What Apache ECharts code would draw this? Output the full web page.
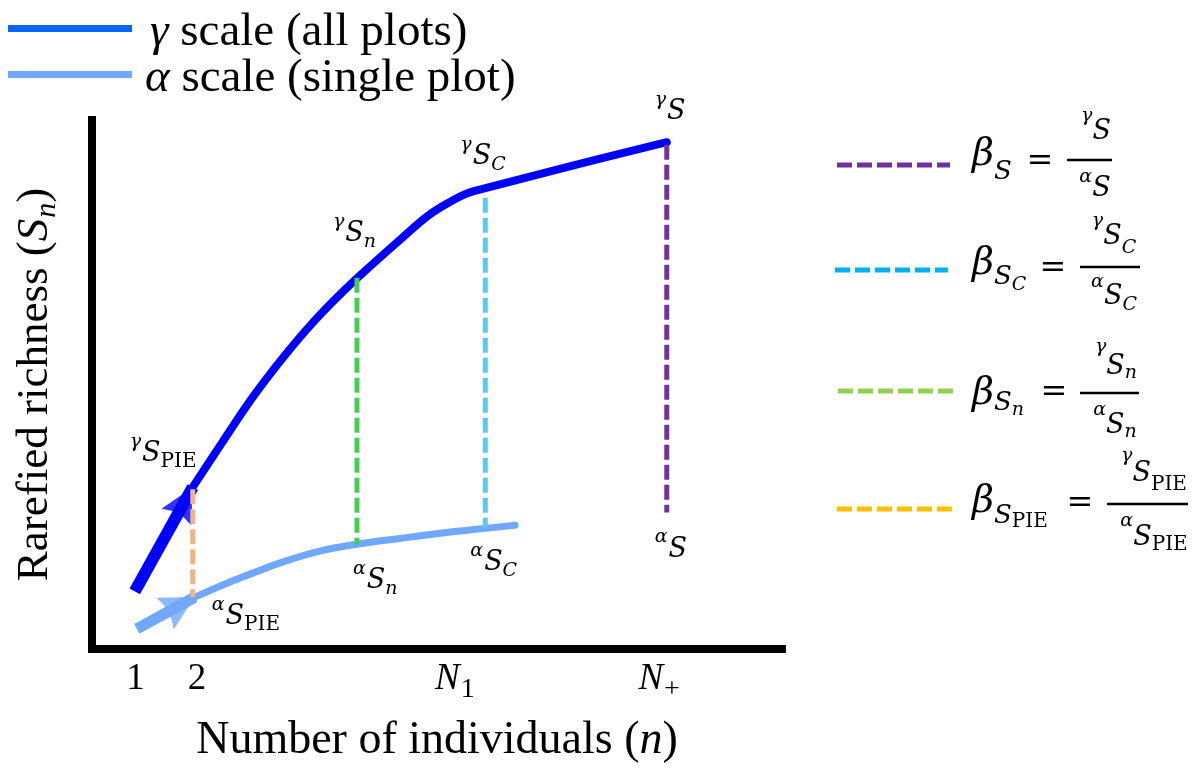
<!DOCTYPE html>
<html><head><meta charset="utf-8">
<script src="https://cdn.jsdelivr.net/npm/echarts@6/dist/echarts.min.js"></script>
<style>html,body{margin:0;padding:0;background:#fff}#main{width:1195px;height:769px}</style>
</head><body><div id="main"></div>
<script>
// ---------------- data ----------------
const gammaShaft = [[6.2, 10.9], [14.6, 30.6]];
const gammaCurve = [[14.6, 30.6], [19.0, 39.3], [23.3, 47.6], [27.7, 55.1], [32.0, 61.7], [36.4, 67.6], [40.7, 72.8], [45.1, 77.9], [48.7, 81.9], [51.6, 84.3], [54.5, 86.2], [57.3, 87.2], [68.8, 91.1], [83.3, 95.8]];
const alphaShaft = [[6.5, 3.8], [14.9, 9.8]];
const alphaCurve = [[14.9, 9.8], [19.3, 12.3], [23.6, 14.5], [28.0, 16.6], [33.0, 18.5], [38.4, 19.8], [44.6, 20.9], [51.9, 22.1], [57.0, 22.8], [61.3, 23.4]];
const dropX = [14.6, 38.4, 57.0, 83.3];
const dropTop = [30.2, 70.2, 85.3, 95.3];
const dropBottom = [9.8, 19.8, 23.0, 25.8];
const dropSub = ['PIE', 'n', 'C', ''];
const tickValues = [6.3, 15.2, 52.6, 82.2];
const tickLabels = ['1', '2', 'N_1', 'N_+'];
const seriesNames = ['γ scale (all plots)', 'α scale (single plot)'];
const xTitle = 'Number of individuals';
const yTitle = 'Rarefied richness';

// ---------------- styles ----------------
const GAMMA = '#0000FF', ALPHA = '#70A8FF';
const dashColors = ['#F4B183', '#45CC55', '#5CC8F0', '#7030A0'];
const legendDashColors = ['#7030A0', '#00B0F0', '#92D050', '#FFC000'];
const SERIF = 'Liberation Serif', MATH = 'DejaVu Serif';
const ARROW = 'path://M10,0 L20,26 L10,22 L0,26 Z';

// annotation label offsets (pixels) relative to the anchor point
const labelOffsets = [[-63, -56.5], [19, -1.5], [-24, -65.5], [-4, 15.5], [-25, -62.5], [-15, 14.5], [-12, -54.5], [-12, 15.5]];

const annRich = {
  sup: {fontFamily: MATH, fontStyle: 'italic', fontSize: 19, color: '#000', verticalAlign: 'top', padding: [0, 1, 0, 0]},
  S: {fontFamily: MATH, fontStyle: 'italic', fontSize: 27, color: '#000', verticalAlign: 'top', padding: [8, 0, 0, 0]},
  sub: {fontFamily: MATH, fontStyle: 'italic', fontSize: 19, color: '#000', verticalAlign: 'top', padding: [20, 0, 0, 0]},
  subUp: {fontFamily: MATH, fontStyle: 'normal', fontSize: 20, color: '#000', verticalAlign: 'top', padding: [19.5, 0, 0, 0]}
};
function annText(scale, sub) {
  let s = '{sup|' + scale + '}{S|S}';
  if (sub === 'PIE') s += '{subUp|PIE}';
  else if (sub) s += '{sub|' + sub + '}';
  return s;
}

// ---------------- series ----------------
const series = [];
series.push({name: seriesNames[1], type: 'line', data: alphaCurve, smooth: 0.4, symbol: 'none',
  lineStyle: {color: ALPHA, width: 7, cap: 'round'}, itemStyle: {color: ALPHA}, z: 2, silent: true});
series.push({name: 'alphaShaft', type: 'line', data: alphaShaft, symbol: 'none',
  lineStyle: {color: ALPHA, width: 11, cap: 'butt'}, z: 2, silent: true});
series.push({name: 'alphaHead', type: 'scatter', data: [alphaShaft[1]], symbol: ARROW, symbolSize: [36, 34],
  symbolRotate: -61, symbolOffset: [-14.9, 8.2], itemStyle: {color: ALPHA}, z: 3, silent: true});
series.push({name: seriesNames[0], type: 'line', data: gammaCurve, smooth: 0.4, symbol: 'none',
  lineStyle: {color: GAMMA, width: 8, cap: 'round'}, itemStyle: {color: GAMMA}, z: 2, silent: true});
series.push({name: 'gammaShaft', type: 'line', data: gammaShaft, symbol: 'none',
  lineStyle: {color: GAMMA, width: 12, cap: 'butt'}, z: 2, silent: true});
series.push({name: 'gammaHead', type: 'scatter', data: [gammaShaft[1]], symbol: ARROW, symbolSize: [34, 34],
  symbolRotate: -29, symbolOffset: [-8.2, 14.9], itemStyle: {color: GAMMA}, z: 3, silent: true});

dropX.forEach((x, i) => {
  series.push({name: 'drop' + i, type: 'line', data: [[x, dropTop[i]], [x, dropBottom[i]]], symbol: 'none',
    lineStyle: {color: dashColors[i], width: 5, type: [15, 5], cap: 'butt'}, z: 5, silent: true});
});

const annData = [];
dropX.forEach((x, i) => {
  annData.push({value: [x, dropTop[i]], label: {position: labelOffsets[i * 2], formatter: annText('γ', dropSub[i])}});
  annData.push({value: [x, dropBottom[i]], label: {position: labelOffsets[i * 2 + 1], formatter: annText('α', dropSub[i])}});
});
series.push({name: 'annotations', type: 'scatter', data: annData, symbolSize: 0.01,
  itemStyle: {color: 'rgba(0,0,0,0)'}, silent: true, z: 6,
  label: {show: true, align: 'left', verticalAlign: 'top', color: '#000', opacity: 1, rich: annRich}});

// ---------------- right-hand legend (formulas) ----------------
function mathText(x, pieces, align) {
  const base = Math.min(...pieces.map(p => p.mid - p.size / 2));
  const rich = {}; let text = '';
  pieces.forEach((p, i) => {
    const k = 'k' + i;
    rich[k] = {fontFamily: MATH, fontSize: p.size, fontStyle: p.up ? 'normal' : 'italic', color: '#000',
      verticalAlign: 'top', padding: [p.mid - p.size / 2 - base, p.pr || 0, 0, p.pl || 0]};
    text += '{' + k + '|' + p.t + '}';
  });
  return {type: 'text', x: x, y: base, silent: true, style: {text: text, rich: rich, align: align || 'left', verticalAlign: 'top'}};
}
const rows = [
  {dashY: 165, dashX: [837, 950], lhs: [['β', 38, 155], ['S', 26, 172]], eq: [1040, 161.5], bar: [1067, 1112, 160],
   num: [1096, [['γ', 19, 116], ['S', 27, 132]]], den: [1095, [['α', 19, 177], ['S', 27, 189]]]},
  {dashY: 270, dashX: [835, 948], lhs: [['β', 38, 264], ['S', 26, 277], ['C', 19, 285]], eq: [1053, 268.5], bar: [1080, 1140, 267],
   num: [1114, [['γ', 19, 221], ['S', 27, 237], ['C', 19, 248]]], den: [1114, [['α', 19, 282], ['S', 27, 297], ['C', 19, 305]]]},
  {dashY: 391, dashX: [838, 953], lhs: [['β', 38, 394], ['S', 26, 403], ['n', 19, 410]], eq: [1054, 392.5], bar: [1080, 1139, 393],
   num: [1116, [['γ', 19, 347], ['S', 27, 367], ['n', 19, 373]]], den: [1115, [['α', 19, 410], ['S', 27, 426], ['n', 19, 432]]]},
  {dashY: 509, dashX: [837, 952], lhs: [['β', 38, 502], ['S', 26, 516], ['PIE', 20, 522, true]], eq: [1080, 503.5], bar: [1107, 1188, 504],
   num: [1154, [['γ', 19, 456], ['S', 27, 474], ['PIE', 20, 485, true]]], den: [1154, [['α', 19, 521], ['S', 27, 538], ['PIE', 20, 545, true]]]}
];
const toPieces = arr => arr.map(a => ({t: a[0], size: a[1], mid: a[2], up: !!a[3]}));
const graphics = [];
rows.forEach((r, i) => {
  graphics.push({type: 'line', silent: true, shape: {x1: r.dashX[0], y1: r.dashY, x2: r.dashX[1], y2: r.dashY},
    style: {stroke: legendDashColors[i], lineWidth: 5, lineDash: [15, 5]}});
  graphics.push(mathText(972, toPieces(r.lhs), 'left'));
  graphics.push({type: 'text', x: r.eq[0], y: r.eq[1], silent: true,
    style: {text: '=', fontFamily: MATH, fontSize: 32, fill: '#000', align: 'center', verticalAlign: 'middle'}});
  graphics.push({type: 'line', silent: true, shape: {x1: r.bar[0], y1: r.bar[2], x2: r.bar[1], y2: r.bar[2]},
    style: {stroke: '#000', lineWidth: 2.5}});
  graphics.push(mathText(r.num[0], toPieces(r.num[1]), 'center'));
  graphics.push(mathText(r.den[0], toPieces(r.den[1]), 'center'));
});

// ---------------- chart ----------------
const chart = echarts.init(document.getElementById('main'), null, {renderer: 'canvas'});
chart.setOption({
  animation: false,
  backgroundColor: '#fff',
  grid: {left: 92, top: 120, width: 690, height: 530, containLabel: false},
  legend: {
    left: 8, top: 9, orient: 'vertical', padding: 0, itemGap: -1, selectedMode: false,
    icon: 'rect', itemWidth: 124, itemHeight: 7,
    itemStyle: {borderWidth: 0},
    data: [{name: seriesNames[0], itemStyle: {color: '#0066FF', borderWidth: 0}},
           {name: seriesNames[1], itemStyle: {color: '#70A8FF', borderWidth: 0}}],
    formatter: function (name) {
      const g = name.charAt(0), rest = name.slice(1);
      return g === 'γ' ? '{g|γ}{t|' + rest + '}' : '{a|α}{t|' + rest + '}';
    },
    textStyle: {fontFamily: SERIF, fontSize: 47, color: '#000',
      rich: {
        g: {fontFamily: SERIF, fontStyle: 'italic', fontSize: 47, color: '#000', padding: [8, 0, 0, 13]},
        a: {fontFamily: SERIF, fontStyle: 'italic', fontSize: 47, color: '#000', padding: [8, 0, 0, 8]},
        t: {fontFamily: SERIF, fontSize: 47, color: '#000', padding: [8, 0, 0, 0]}
      }}
  },
  xAxis: {
    type: 'value', min: 0, max: 100,
    axisLine: {lineStyle: {color: '#000', width: 8, cap: 'square'}},
    axisTick: {show: false}, splitLine: {show: false},
    axisLabel: {
      customValues: tickValues, margin: 11.5,
      formatter: function (v) {
        let idx = 0, best = 1e9;
        tickValues.forEach((t, i) => { if (Math.abs(t - v) < best) { best = Math.abs(t - v); idx = i; } });
        const lab = tickLabels[idx];
        if (lab.indexOf('_') >= 0) {
          const parts = lab.split('_');
          return '{N|' + parts[0] + '}{sub|' + parts[1] + '}';
        }
        return '{num|' + lab + '}';
      },
      rich: {
        num: {fontFamily: SERIF, fontSize: 37, color: '#000', verticalAlign: 'top', padding: [0, 0, 0, 0]},
        N: {fontFamily: SERIF, fontStyle: 'italic', fontSize: 37, color: '#000', verticalAlign: 'top', padding: [0, 0, 0, 0]},
        sub: {fontFamily: SERIF, fontSize: 28, color: '#000', verticalAlign: 'top', padding: [15.5, 0, 0, 1]}
      }
    },
    name: '{t|' + xTitle + ' (}{i|n}{t|)}',
    nameLocation: 'middle', nameGap: 69,
    nameTextStyle: {fontFamily: SERIF, fontSize: 46, color: '#000',
      rich: {t: {fontFamily: SERIF, fontSize: 46, color: '#000', lineHeight: 46},
             i: {fontFamily: SERIF, fontStyle: 'italic', fontSize: 46, color: '#000', lineHeight: 46}}}
  },
  yAxis: {
    type: 'value', min: 0, max: 100,
    axisLine: {lineStyle: {color: '#000', width: 8, cap: 'square'}},
    axisTick: {show: false}, splitLine: {show: false}, axisLabel: {show: false},
    name: '{t|' + yTitle + ' (}{S|S}{sub|n}{t|)}',
    nameLocation: 'middle', nameGap: 30,
    nameTextStyle: {fontFamily: SERIF, fontSize: 45, color: '#000',
      rich: {t: {fontFamily: SERIF, fontSize: 45, color: '#000', verticalAlign: 'top', padding: [0, 0, 0, 0]},
             S: {fontFamily: SERIF, fontStyle: 'italic', fontSize: 45, color: '#000', verticalAlign: 'top', padding: [0, 0, 0, 0]},
             sub: {fontFamily: SERIF, fontStyle: 'italic', fontSize: 30, color: '#000', verticalAlign: 'top', padding: [19, 0, 0, 1]}}}
  },
  series: series,
  graphic: graphics
});
</script>
</body></html>
